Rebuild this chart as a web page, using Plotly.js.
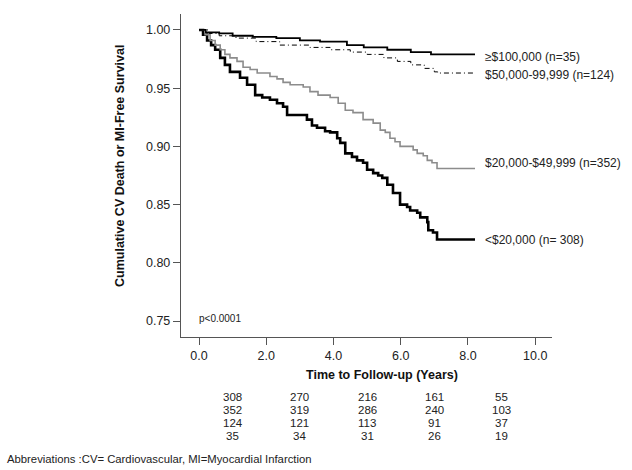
<!DOCTYPE html>
<html>
<head>
<meta charset="utf-8">
<script src="https://cdn.plot.ly/plotly-3.0.1.min.js"></script>
<style>html,body{margin:0;padding:0;background:#fff}#chart{width:632px;height:470px}</style>
</head>
<body>
<div id="chart"></div>
<script>
// ---- Data ----
const seriesNames = ["≥$100,000 (n=35)", "$50,000-99,999 (n=124)", "$20,000-$49,999 (n=352)", "<$20,000 (n= 308)"];

const t100k = [0, 0.2, 0.6, 1.0, 1.6, 2.3, 3.0, 3.6, 4.4, 4.9, 5.6, 6.3, 6.9, 8.21];
const s100k = [1.0, 0.998, 0.997, 0.995, 0.994, 0.993, 0.991, 0.990, 0.987, 0.985, 0.983, 0.981, 0.979, 0.979];

const t50k = [0, 0.3, 0.6, 1.1, 1.7, 2.4, 3.3, 3.9, 4.5, 5.0, 5.5, 5.9, 6.3, 6.7, 7.0, 7.1, 8.21];
const s50k = [1.0, 0.997, 0.995, 0.993, 0.990, 0.987, 0.985, 0.983, 0.981, 0.979, 0.976, 0.973, 0.970, 0.967, 0.964, 0.963, 0.963];

const t20k = [0, 0.18, 0.33, 0.48, 0.63, 0.77, 0.92, 1.13, 1.31, 1.52, 1.73, 2.11, 2.32, 2.50, 2.71, 3.10, 3.30, 3.54, 3.90, 4.14, 4.35, 4.58, 4.88, 5.18, 5.39, 5.54, 5.68, 5.83, 5.98, 6.37, 6.49, 6.67, 6.79, 6.93, 7.08, 8.21];
const s20k = [1.0, 0.996, 0.991, 0.987, 0.983, 0.979, 0.976, 0.973, 0.968, 0.966, 0.963, 0.960, 0.958, 0.955, 0.953, 0.951, 0.947, 0.944, 0.942, 0.937, 0.931, 0.929, 0.923, 0.920, 0.914, 0.912, 0.907, 0.904, 0.900, 0.897, 0.894, 0.892, 0.888, 0.886, 0.881, 0.881];

const tLow = [0, 0.12, 0.24, 0.36, 0.48, 0.63, 0.77, 0.92, 1.22, 1.43, 1.67, 1.88, 2.11, 2.32, 2.50, 2.62, 3.21, 3.36, 3.51, 3.75, 3.90, 4.11, 4.20, 4.35, 4.55, 4.70, 4.88, 5.00, 5.18, 5.33, 5.45, 5.60, 5.77, 5.98, 6.19, 6.28, 6.49, 6.58, 6.79, 6.82, 6.96, 7.08, 8.21];
const sLow = [1.0, 0.996, 0.991, 0.987, 0.983, 0.976, 0.970, 0.964, 0.959, 0.953, 0.944, 0.942, 0.940, 0.937, 0.934, 0.927, 0.923, 0.918, 0.916, 0.913, 0.912, 0.907, 0.903, 0.894, 0.891, 0.888, 0.886, 0.880, 0.877, 0.875, 0.873, 0.867, 0.860, 0.850, 0.848, 0.845, 0.843, 0.839, 0.835, 0.828, 0.826, 0.820, 0.820];

const riskTimes = [1, 3, 5, 7, 9];
const riskLow = [308, 270, 216, 161, 55];
const risk20k = [352, 319, 286, 240, 103];
const risk50k = [124, 121, 113, 91, 37];
const risk100k = [35, 34, 31, 26, 19];

const yTicks = [0.75, 0.80, 0.85, 0.90, 0.95, 1.00];
const xTicks = [0, 2, 4, 6, 8, 10];
const pText = "p<0.0001";
const yTitle = "Cumulative CV Death or MI-Free Survival";
const xTitle = "Time to Follow-up (Years)";
const footnote = "Abbreviations :CV= Cardiovascular, MI=Myocardial Infarction";

// ---- Layout geometry ----
const W = 632, H = 470;
const M = {l: 181, r: 80, t: 14, b: 133};
const plotH = H - M.t - M.b, plotW = W - M.l - M.r;
const py = px => (H - M.b - px) / plotH;   // pixel row -> paper y
const pxx = px => (px - M.l) / plotW;      // pixel col -> paper x
const FONT = "Liberation Sans, Arial, sans-serif";

const traces = [
  {x: tLow, y: sLow, mode: "lines", line: {shape: "hv", color: "#000", width: 2.6}},
  {x: t20k, y: s20k, mode: "lines", line: {shape: "hv", color: "#8c8c8c", width: 1.6}},
  {x: t50k, y: s50k, mode: "lines", line: {shape: "hv", color: "#000", width: 1, dash: "5px,3px,1px,3px"}},
  {x: t100k, y: s100k, mode: "lines", line: {shape: "hv", color: "#000", width: 1.8}}
].map(t => Object.assign(t, {hoverinfo: "skip", showlegend: false}));

const ann = [];
// series labels at line ends
const ends = [[t100k, s100k, -3], [t50k, s50k, -2], [t20k, s20k, 6], [tLow, sLow, 0]];
ends.forEach((e, i) => {
  ann.push({x: e[0][e[0].length - 1], y: e[1][e[1].length - 1], xref: "x", yref: "y",
    text: seriesNames[i], showarrow: false, xanchor: "left", yanchor: "middle",
    xshift: 8, yshift: e[2], font: {family: FONT, size: 12, color: "#222"}});
});
// risk table
[riskLow, risk20k, risk50k, risk100k].forEach((row, r) => {
  row.forEach((v, c) => {
    ann.push({x: riskTimes[c], y: py(397 + r * 13), xref: "x", yref: "paper", text: String(v),
      showarrow: false, xanchor: "center", yanchor: "middle", font: {family: FONT, size: 11.5, color: "#222"}});
  });
});
ann.push({x: pxx(382), y: py(375), xref: "paper", yref: "paper", text: "<b>" + xTitle + "</b>",
  showarrow: false, xanchor: "center", yanchor: "middle", font: {family: FONT, size: 12.5, color: "#111"}});
ann.push({x: pxx(120), y: py(166), xref: "paper", yref: "paper", text: "<b>" + yTitle + "</b>",
  textangle: -90, showarrow: false, xanchor: "center", yanchor: "middle", font: {family: FONT, size: 12.5, color: "#111"}});
ann.push({x: -0.05, y: yTicks[0], xref: "x", yref: "y", text: pText, showarrow: false,
  xanchor: "left", yanchor: "middle", yshift: 3, font: {family: FONT, size: 10, color: "#222"}});
ann.push({x: pxx(5), y: py(459), xref: "paper", yref: "paper", text: footnote, showarrow: false,
  xanchor: "left", yanchor: "middle", font: {family: FONT, size: 11.3, color: "#222"}});

const layout = {
  width: W, height: H, margin: M, paper_bgcolor: "#fff", plot_bgcolor: "#fff",
  showlegend: false,
  font: {family: FONT, size: 12, color: "#222"},
  xaxis: {range: [-0.536, 10.5], tickvals: xTicks, ticktext: xTicks.map(v => v.toFixed(1)),
    showline: true, linecolor: "#555", linewidth: 1.2, ticks: "outside", ticklen: 7, tickcolor: "#555",
    showgrid: false, zeroline: false, tickfont: {family: FONT, size: 12.5, color: "#222"}},
  yaxis: {range: [0.7363, 1.0137], tickvals: yTicks, ticktext: yTicks.map(v => v.toFixed(2)),
    showline: true, linecolor: "#555", linewidth: 1.2, ticks: "outside", ticklen: 7, tickcolor: "#555",
    showgrid: false, zeroline: false, tickfont: {family: FONT, size: 12.5, color: "#222"}},
  annotations: ann
};

Plotly.newPlot("chart", traces, layout, {staticPlot: true, displayModeBar: false});
</script>
</body>
</html>
